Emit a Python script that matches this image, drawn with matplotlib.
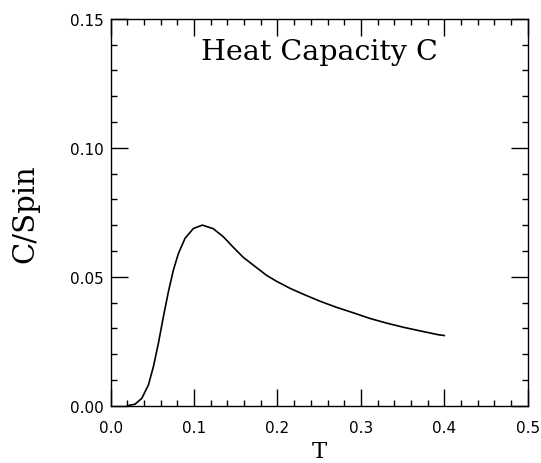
import matplotlib.pyplot as plt
from matplotlib.ticker import MultipleLocator

# heat capacity per spin vs temperature
temp = [0.020, 0.0292, 0.0372, 0.0452, 0.0512, 0.0572, 0.0632, 0.0692,
        0.0752, 0.0812, 0.0892, 0.0992, 0.110, 0.123, 0.135, 0.147,
        0.159, 0.171, 0.187, 0.199, 0.215, 0.231, 0.251, 0.271, 0.291,
        0.311, 0.331, 0.351, 0.371, 0.393, 0.400]
c_spin = [0.0000, 0.0006, 0.0028, 0.0080, 0.0151, 0.0242, 0.0345, 0.0442,
          0.0526, 0.0590, 0.0649, 0.0687, 0.0700, 0.0686, 0.0655, 0.0614,
          0.0575, 0.0545, 0.0505, 0.0482, 0.0455, 0.0432, 0.0405, 0.0381,
          0.0360, 0.0338, 0.0320, 0.0304, 0.0290, 0.0275, 0.0272]

title = 'Heat Capacity C'

fig = plt.figure(figsize=(5.41, 4.64), dpi=100)
ax = fig.add_axes([0.2046, 0.1235, 0.7708, 0.834])

ax.plot(temp, c_spin, color='black', lw=1.2)

ax.set_xlim(0.0, 0.5)
ax.set_ylim(0.0, 0.15)
ax.xaxis.set_major_locator(MultipleLocator(0.1))
ax.xaxis.set_minor_locator(MultipleLocator(0.02))
ax.yaxis.set_major_locator(MultipleLocator(0.05))
ax.yaxis.set_minor_locator(MultipleLocator(0.01))
ax.xaxis.set_major_formatter(lambda v, p: f'{v:.1f}')
ax.yaxis.set_major_formatter(lambda v, p: f'{v:.2f}')

ax.tick_params(which='both', direction='in', top=True, right=True, width=1.0)
ax.tick_params(which='major', length=12.5)
ax.tick_params(which='minor', length=4.5)
ax.tick_params(axis='x', which='major', pad=10.5, labelsize=11)
ax.tick_params(axis='y', which='major', pad=5, labelsize=11)
for s in ax.spines.values():
    s.set_linewidth(1.0)

ax.text(0.25, 0.1373, title, ha='center', va='center', fontsize=20.5,
        family='DejaVu Serif')

ax.set_xlabel('T', fontsize=16.5, family='DejaVu Serif', va='bottom')
ax.set_ylabel('C/Spin', fontsize=21, family='DejaVu Serif', va='center')
ax.xaxis.set_label_coords(0.5, -0.145)
ax.yaxis.set_label_coords(-0.205, 0.5)

plt.savefig('out.png', dpi=100)
plt.close()
